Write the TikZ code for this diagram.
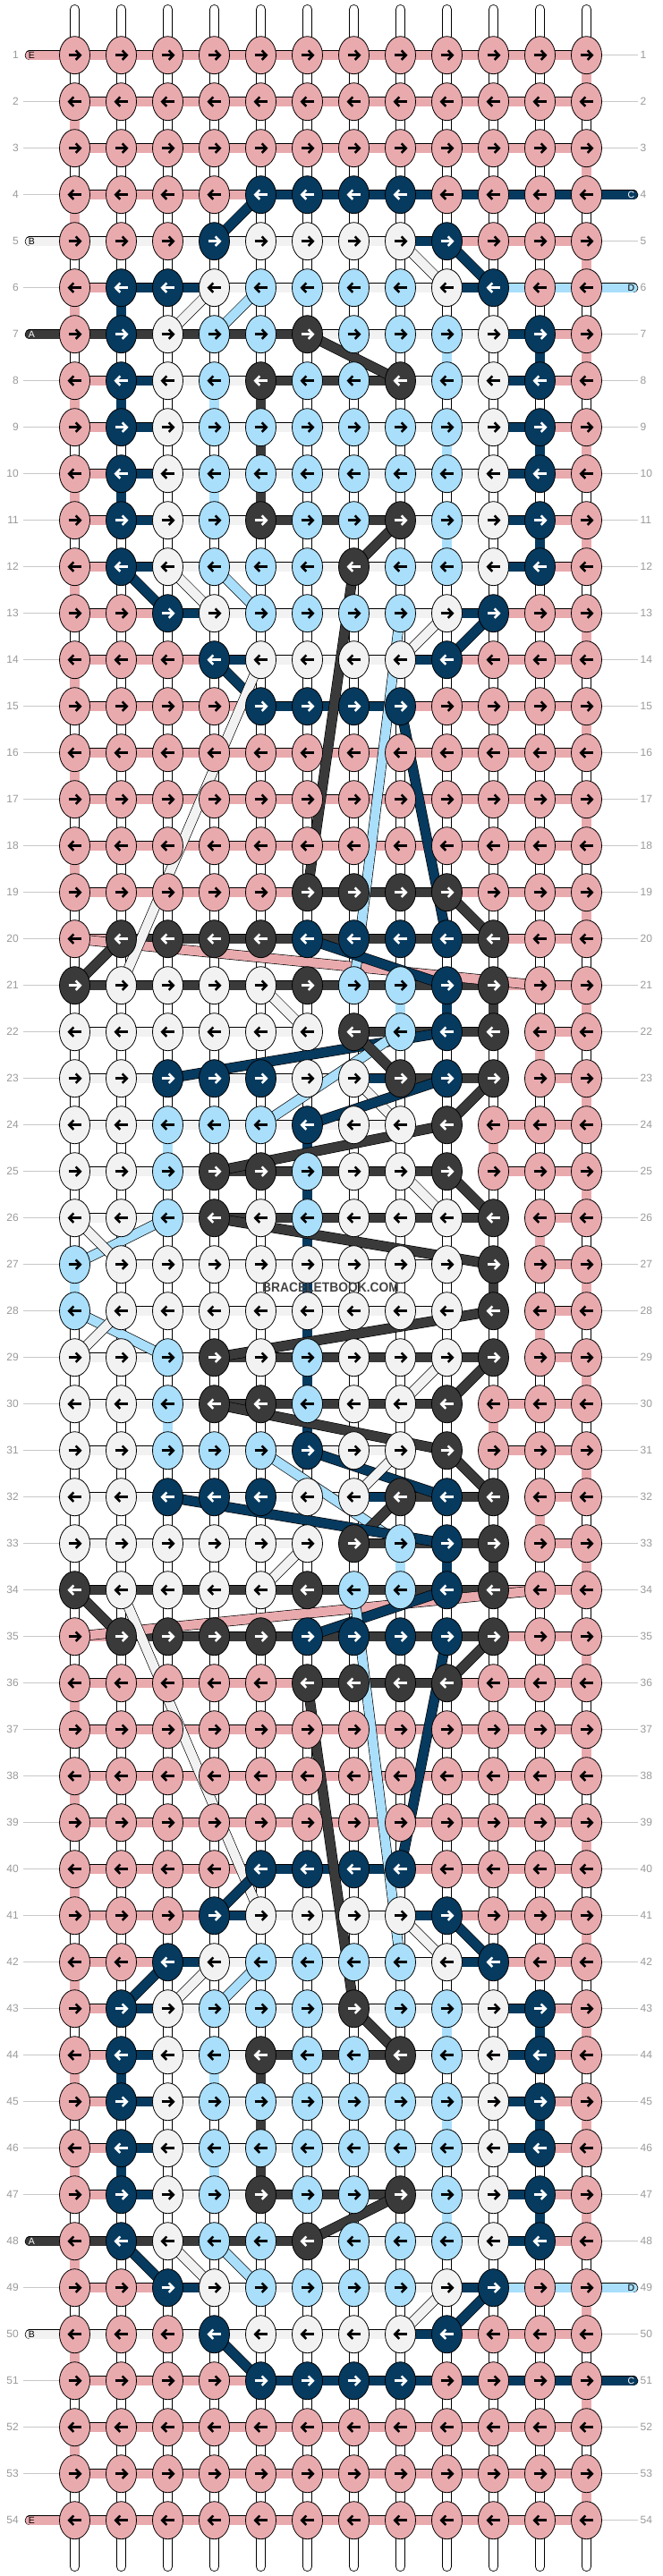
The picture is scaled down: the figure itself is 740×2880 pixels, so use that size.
\documentclass[tikz,border=0pt]{standalone}
\usepackage{fontspec}
\setmainfont{Liberation Sans}
\usetikzlibrary{shapes.geometric}
\definecolor{cP}{HTML}{E9AAAE}
\definecolor{cN}{HTML}{063A5F}
\definecolor{cW}{HTML}{F2F2F2}
\definecolor{cL}{HTML}{A9DFFB}
\definecolor{cK}{HTML}{3A3A3A}
\colorlet{aP}{black}
\colorlet{aN}{white}
\colorlet{aW}{black}
\colorlet{aL}{black}
\colorlet{aK}{white}
\definecolor{numgray}{HTML}{9A9A9A}
\definecolor{linegray}{HTML}{C8C8C8}
\definecolor{wmgray}{HTML}{454545}
\pgfdeclarelayer{bg}
\pgfsetlayers{bg,main}
\tikzset{
  strand/.style={draw=black, line width=0.65pt, double=#1, double distance=10.2pt},
  sP/.style={strand=cP}, sN/.style={strand=cN}, sW/.style={strand=cW},
  sL/.style={strand=cL}, sK/.style={strand=cK}, sO/.style={draw=none},
  tube/.style={draw=black, line width=0.85pt, double=white, double distance=9.6pt, line cap=round},
  knot/.style={ellipse, draw=black, line width=0.8pt, minimum width=34pt, minimum height=42pt, inner sep=0pt, fill=#1},
  arr/.style={line width=2.6pt, draw=#1, line join=miter},
  rownum/.style={text=numgray, font=\fontsize{12}{12}\selectfont, inner sep=0pt},
  tailtxt/.style={font=\fontsize{10.5}{10.5}\selectfont, inner sep=0pt, text=#1},
  rowline/.style={draw=linegray, line width=1pt},
}
\begin{document}
\begin{tikzpicture}[x=1pt,y=-1pt]
\useasboundingbox (0,0) rectangle (740,2880);
% knots
\foreach \rowdata [count=\ri] in {
{P,P,P,P,P,P,P,P,P,P,P,P},
{P,P,P,P,P,P,P,P,P,P,P,P},
{P,P,P,P,P,P,P,P,P,P,P,P},
{P,P,P,P,N,N,N,N,P,P,P,P},
{P,P,P,N,W,W,W,W,N,P,P,P},
{P,N,N,W,L,L,L,L,W,N,P,P},
{P,N,W,L,L,K,L,L,L,W,N,P},
{P,N,W,L,K,L,L,K,L,W,N,P},
{P,N,W,L,L,L,L,L,L,W,N,P},
{P,N,W,L,L,L,L,L,L,W,N,P},
{P,N,W,L,K,L,L,K,L,W,N,P},
{P,N,W,L,L,L,K,L,L,W,N,P},
{P,P,N,W,L,L,L,L,W,N,P,P},
{P,P,P,N,W,W,W,W,N,P,P,P},
{P,P,P,P,N,N,N,N,P,P,P,P},
{P,P,P,P,P,P,P,P,P,P,P,P},
{P,P,P,P,P,P,P,P,P,P,P,P},
{P,P,P,P,P,P,P,P,P,P,P,P},
{P,P,P,P,P,K,K,K,K,P,P,P},
{P,K,K,K,K,N,N,N,N,K,P,P},
{K,W,W,W,W,K,L,L,N,K,P,P},
{W,W,W,W,W,W,K,L,N,K,P,P},
{W,W,N,N,N,W,W,K,N,K,P,P},
{W,W,L,L,L,N,W,W,K,P,P,P},
{W,W,L,K,K,L,W,W,K,P,P,P},
{W,W,L,K,W,L,W,W,W,K,P,P},
{L,W,W,W,W,W,W,W,W,K,P,P},
{L,W,W,W,W,W,W,W,W,K,P,P},
{W,W,L,K,W,L,W,W,W,K,P,P},
{W,W,L,K,K,L,W,W,K,P,P,P},
{W,W,L,L,L,N,W,W,K,P,P,P},
{W,W,N,N,N,W,W,K,N,K,P,P},
{W,W,W,W,W,W,K,L,N,K,P,P},
{K,W,W,W,W,K,L,L,N,K,P,P},
{P,K,K,K,K,N,N,N,N,K,P,P},
{P,P,P,P,P,K,K,K,K,P,P,P},
{P,P,P,P,P,P,P,P,P,P,P,P},
{P,P,P,P,P,P,P,P,P,P,P,P},
{P,P,P,P,P,P,P,P,P,P,P,P},
{P,P,P,P,N,N,N,N,P,P,P,P},
{P,P,P,N,W,W,W,W,N,P,P,P},
{P,P,N,W,L,L,L,L,W,N,P,P},
{P,N,W,L,L,L,K,L,L,W,N,P},
{P,N,W,L,K,L,L,K,L,W,N,P},
{P,N,W,L,L,L,L,L,L,W,N,P},
{P,N,W,L,L,L,L,L,L,W,N,P},
{P,N,W,L,K,L,L,K,L,W,N,P},
{P,N,W,L,L,K,L,L,L,W,N,P},
{P,P,N,W,L,L,L,L,W,N,P,P},
{P,P,P,N,W,W,W,W,N,P,P,P},
{P,P,P,P,N,N,N,N,P,P,P,P},
{P,P,P,P,P,P,P,P,P,P,P,P},
{P,P,P,P,P,P,P,P,P,P,P,P},
{P,P,P,P,P,P,P,P,P,P,P,P}}{
  \pgfmathsetmacro\dd{1-2*mod(\ri+1,2)}
  \foreach \kk [count=\ci] in \rowdata {
    \pgfmathsetmacro\xx{31.5+52*\ci}
    \pgfmathsetmacro\yy{9.7+52*\ri}
    \node[knot=c\kk] (k-\ri-\ci) at (\xx,\yy) {};
    \draw[arr=a\kk] ({\xx-7*(\dd)},\yy) -- ({\xx+5.5*(\dd)},\yy);
    \draw[arr=a\kk] ({\xx+1.2*(\dd)},{\yy-5.2}) -- ({\xx+6.2*(\dd)},\yy) -- ({\xx+1.2*(\dd)},{\yy+5.2});
  }
}
\begin{pgfonlayer}{bg}
\fill[white] (0,0) rectangle (740,2880);
% row numbers
\foreach \ri in {1,...,54}{
  \pgfmathsetmacro\yy{9.7+52*\ri}
  \node[rownum, anchor=east] (nl-\ri) at (21,\yy) {\ri};
  \node[rownum, anchor=west] (nr-\ri) at (715.5,\yy) {\ri};
}
\foreach \ri in {2,3,4,6,8,9,10,11,12,13,14,15,16,17,18,19,20,21,22,23,24,25,26,27,28,29,30,31,32,33,34,35,36,37,38,39,40,41,42,43,44,45,46,47,49,51,52,53}{
  \pgfmathsetmacro\yy{9.7+52*\ri}
  \coordinate (la-\ri) at (26,\yy);
  \draw[rowline] (la-\ri) -- (k-\ri-1.west);
}
\foreach \ri in {1,2,3,5,7,8,9,10,11,12,13,14,15,16,17,18,19,20,21,22,23,24,25,26,27,28,29,30,31,32,33,34,35,36,37,38,39,40,41,42,43,44,45,46,47,48,50,52,53,54}{
  \pgfmathsetmacro\yy{9.7+52*\ri}
  \coordinate (ra-\ri) at (713,\yy);
  \draw[rowline] (k-\ri-12.east) -- (ra-\ri);
}
% base tubes
\foreach \ci in {1,...,12}{
  \pgfmathsetmacro\xx{31.5+52*\ci}
  \coordinate (tt-\ci) at (\xx,10.6);
  \coordinate (tb-\ci) at (\xx,2869.4);
  \draw[tube] (tt-\ci) -- (tb-\ci);
}
% coloured vertical links
\foreach \ri/\ci/\kk in {
1/12/P,2/1/P,3/12/P,4/1/P,5/12/P,6/1/P,6/2/N,
7/9/L,7/11/N,7/12/P,
8/1/P,8/2/N,8/4/L,8/5/K,
9/5/K,9/9/L,9/11/N,9/12/P,
10/1/P,10/2/N,10/4/L,10/5/K,
11/9/L,11/11/N,11/12/P,
12/1/P,13/12/P,14/1/P,15/12/P,16/1/P,17/12/P,18/1/P,19/12/P,
21/8/L,21/9/N,21/10/K,21/12/P,
22/11/P,23/12/P,
24/3/L,24/6/N,24/10/P,
25/6/N,25/12/P,
26/6/N,26/11/P,
27/1/L,27/6/N,27/10/K,27/12/P,
28/6/N,28/11/P,
29/6/N,29/12/P,
30/3/L,30/6/N,30/10/P,
31/12/P,32/11/P,
33/8/L,33/9/N,33/10/K,33/12/P,
35/12/P,36/1/P,37/12/P,38/1/P,39/12/P,40/1/P,41/12/P,42/1/P,
43/9/L,43/11/N,43/12/P,
44/1/P,44/2/N,44/4/L,44/5/K,
45/5/K,45/9/L,45/11/N,45/12/P,
46/1/P,46/2/N,46/4/L,46/5/K,
47/9/L,47/11/N,47/12/P,
48/1/P,49/12/P,50/1/P,51/12/P,52/1/P,53/12/P}{
  \pgfmathtruncatemacro\rn{\ri+1}
  \draw[s\kk] (k-\ri-\ci.center) -- (k-\rn-\ci.center);
}
% horizontal links
\foreach \rowdata [count=\ri] in {
{P,P,P,P,P,P,P,P,P,P,P},
{P,P,P,P,P,P,P,P,P,P,P},
{P,P,P,P,P,P,P,P,P,P,P},
{P,P,P,P,N,N,N,N,N,N,N},
{W,W,W,W,W,W,W,N,P,P,P},
{P,N,N,W,W,W,W,W,N,L,L},
{K,K,K,K,K,W,W,W,W,N,P},
{P,N,W,W,K,K,K,W,W,N,P},
{P,N,W,W,W,W,W,W,W,N,P},
{P,N,W,W,W,W,W,W,W,N,P},
{P,N,W,W,K,K,K,W,W,N,P},
{P,N,W,W,W,W,W,W,W,N,P},
{P,P,N,W,W,W,W,W,N,P,P},
{P,P,P,N,W,W,W,N,P,P,P},
{P,P,P,P,N,N,N,P,P,P,P},
{P,P,P,P,P,P,P,P,P,P,P},
{P,P,P,P,P,P,P,P,P,P,P},
{P,P,P,P,P,P,P,P,P,P,P},
{P,P,P,P,P,K,K,K,P,P,P},
{P,K,K,K,K,K,K,K,K,P,P},
{K,K,K,K,K,K,K,K,K,P,P},
{W,W,W,W,W,O,K,K,K,O,P},
{W,W,W,W,W,W,N,K,K,O,P},
{W,W,W,W,W,W,W,O,O,P,P},
{W,W,W,K,K,K,K,K,O,P,P},
{W,W,W,K,K,K,K,K,K,O,P},
{O,W,W,W,W,W,W,W,O,O,P},
{O,W,W,W,W,W,W,W,O,O,P},
{W,W,W,K,K,K,K,K,K,O,P},
{W,W,W,K,K,K,K,K,O,P,P},
{W,W,W,W,W,W,W,O,O,P,P},
{W,W,W,W,W,W,N,K,K,O,P},
{W,W,W,W,W,O,K,K,K,O,P},
{K,K,K,K,K,K,K,K,K,P,P},
{P,K,K,K,K,K,K,K,K,P,P},
{P,P,P,P,P,K,K,K,P,P,P},
{P,P,P,P,P,P,P,P,P,P,P},
{P,P,P,P,P,P,P,P,P,P,P},
{P,P,P,P,P,P,P,P,P,P,P},
{P,P,P,P,N,N,N,P,P,P,P},
{P,P,P,N,W,W,W,N,P,P,P},
{P,P,N,W,W,W,W,W,N,P,P},
{P,N,W,W,W,W,W,W,W,N,P},
{P,N,W,W,K,K,K,W,W,N,P},
{P,N,W,W,W,W,W,W,W,N,P},
{P,N,W,W,W,W,W,W,W,N,P},
{P,N,W,W,K,K,K,W,W,N,P},
{K,K,K,K,K,W,W,W,W,N,P},
{P,P,N,W,W,W,W,W,N,L,L},
{W,W,W,W,W,W,W,N,P,P,P},
{P,P,P,P,N,N,N,N,N,N,N},
{P,P,P,P,P,P,P,P,P,P,P},
{P,P,P,P,P,P,P,P,P,P,P},
{P,P,P,P,P,P,P,P,P,P,P}}{
  \foreach \bb [count=\ci] in \rowdata {
    \pgfmathtruncatemacro\cn{\ci+1}
    \draw[s\bb] (k-\ri-\ci.center) -- (k-\ri-\cn.center);
  }
}
% diagonal links
\foreach \ra/\ca/\rb/\cb/\kk in {
20/1/21/11/P, 34/11/35/1/P,
4/5/5/4/N, 5/9/6/10/N, 5/8/6/9/W, 6/4/7/3/W, 6/5/7/4/L,
7/6/8/8/K, 11/8/12/7/K, 12/7/19/6/K,
12/2/13/3/N, 12/3/13/4/W, 12/4/13/5/L,
13/10/14/9/N, 13/9/14/8/W, 13/8/21/7/L,
14/4/15/5/N, 14/5/21/2/W, 15/8/20/9/N,
19/9/20/10/K, 20/2/21/1/K, 20/6/21/9/N, 21/5/22/6/W,
22/9/23/3/N, 22/8/24/5/L, 22/7/23/8/K,
23/7/24/8/W, 23/10/24/9/K, 23/9/24/6/N,
24/9/25/4/K, 25/9/26/10/K, 25/8/26/9/W,
26/4/27/10/K, 26/3/27/1/L, 26/1/27/2/W,
28/10/29/4/K, 28/1/29/3/L, 28/2/29/1/W,
29/10/30/9/K, 29/9/30/8/W, 30/4/31/9/K,
31/9/32/10/K, 31/6/32/9/N, 31/5/33/8/L, 31/8/32/7/W,
32/8/33/7/K, 32/3/33/9/N, 33/6/34/5/W,
34/1/35/2/K, 34/9/35/6/N, 34/7/42/8/L, 34/2/41/5/W,
35/10/36/9/K, 35/9/40/8/N, 36/6/43/7/K,
40/5/41/4/N, 41/9/42/10/N, 41/8/42/9/W,
42/3/43/2/N, 42/4/43/3/W, 42/5/43/4/L,
43/7/44/8/K, 47/8/48/6/K,
48/2/49/3/N, 48/3/49/4/W, 48/4/49/5/L,
49/10/50/9/N, 49/9/50/8/W, 50/4/51/5/N}{
  \draw[s\kk] (k-\ra-\ca.center) -- (k-\rb-\cb.center);
}
% string ends
\foreach \ri/\kk/\lab in {1/P/E,5/W/B,7/K/A,48/K/A,50/W/B,54/P/E}{
  \pgfmathsetmacro\yy{9.7+52*\ri}
  \coordinate (te-\ri) at (33.5,\yy);
  \draw[s\kk, line cap=round] (te-\ri) -- (k-\ri-1.center);
  \node[tailtxt=a\kk] (tl-\ri) at (35.5,\yy) {\lab};
}
\foreach \ri/\kk/\lab in {4/N/C,6/L/D,49/L/D,51/N/C}{
  \pgfmathsetmacro\yy{9.7+52*\ri}
  \coordinate (te-\ri) at (707.5,\yy);
  \draw[s\kk, line cap=round] (k-\ri-12.center) -- (te-\ri);
  \node[tailtxt=a\kk] (tl-\ri) at (705.5,\yy) {\lab};
}
\end{pgfonlayer}
\node[font=\bfseries\fontsize{15}{15}\selectfont, text=wmgray, xscale=0.92, inner sep=0pt] (wm) at (369.5,1439) {BRACELETBOOK.COM};
\end{tikzpicture}
\end{document}
